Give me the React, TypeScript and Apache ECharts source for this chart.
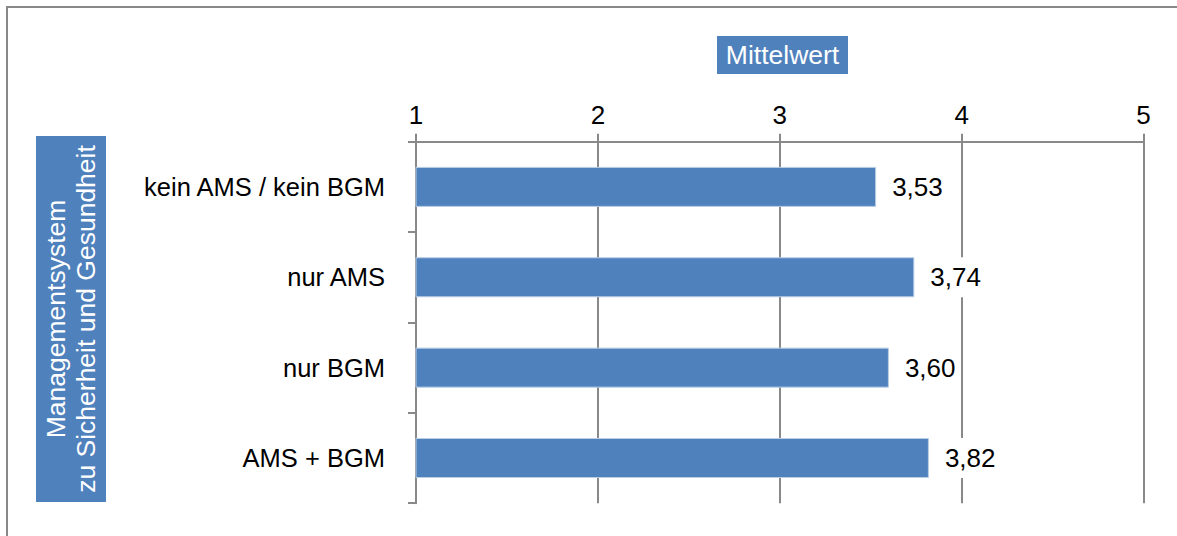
import React, { useEffect, useRef } from "react";
import * as echarts from "echarts";

const categories = ["kein AMS / kein BGM", "nur AMS", "nur BGM", "AMS + BGM"];
const values = [3.53, 3.74, 3.6, 3.82];
const axisMin = 1;
const axisMax = 5;
const axisTitle = "Mittelwert";
const yTitle = "Managementsystem\nzu Sicherheit und Gesundheit";

const FONT = "'Liberation Sans', Arial, sans-serif";
const GRAY = "#898989";
const BLUE = "#4F81BD";

export default function App() {
  const ref = useRef<HTMLDivElement>(null);
  useEffect(() => {
    document.body.style.margin = "0";
    const chart = echarts.init(ref.current!, null, { renderer: "svg" });
    chart.setOption({
      animation: false,
      backgroundColor: "#ffffff",
      grid: { left: 416, right: 33.5, top: 141.7, height: 361.5, containLabel: false },
      xAxis: {
        type: "value",
        position: "top",
        min: axisMin,
        max: axisMax,
        interval: 1,
        axisLine: { show: true, lineStyle: { color: GRAY, width: 2 } },
        axisTick: { show: true, length: 8, lineStyle: { color: GRAY, width: 2 } },
        splitLine: { show: true, lineStyle: { color: GRAY, width: 2 } },
        axisLabel: {
          fontSize: 26,
          color: "#000",
          fontFamily: FONT,
          margin: 14,
          formatter: (v: number) => String(v),
        },
      },
      yAxis: {
        type: "category",
        inverse: true,
        data: categories,
        axisLine: { show: true, lineStyle: { color: GRAY, width: 2 } },
        axisTick: { show: true, length: 8, lineStyle: { color: GRAY, width: 2 } },
        axisLabel: { fontSize: 25.5, color: "#000", fontFamily: FONT, margin: 31 },
        splitLine: { show: false },
      },
      series: [
        {
          type: "bar",
          data: values,
          barWidth: 40,
          clip: true,
          itemStyle: { color: BLUE, borderColor: "#B9CDE5", borderWidth: 1 },
          label: {
            show: true,
            position: "right",
            distance: 12,
            color: "#000",
            fontSize: 26,
            fontFamily: FONT,
            backgroundColor: "#ffffff",
            lineHeight: 26,
            padding: [7, 4],
            formatter: (p: any) => Number(p.value).toFixed(2).replace(".", ","),
          },
        },
      ],
      graphic: [
        {
          type: "rect",
          shape: { x: 7, y: 7, width: 1250, height: 600 },
          style: { fill: "none", stroke: GRAY, lineWidth: 2 },
          silent: true,
        },
        {
          type: "rect",
          shape: { x: 717, y: 36, width: 131, height: 38 },
          style: { fill: BLUE },
        },
        {
          type: "text",
          x: 782.5,
          y: 55,
          style: {
            text: axisTitle,
            fill: "#ffffff",
            fontSize: 26.5,
            fontFamily: FONT,
            textAlign: "center",
            textVerticalAlign: "middle",
            align: "center",
            verticalAlign: "middle",
          },
        },
        {
          type: "rect",
          shape: { x: 36, y: 136, width: 70, height: 366 },
          style: { fill: BLUE },
        },
        {
          type: "text",
          x: 71,
          y: 319,
          rotation: Math.PI / 2,
          style: {
            text: yTitle,
            fill: "#ffffff",
            fontSize: 26.5,
            fontFamily: FONT,
            lineHeight: 30,
            textAlign: "center",
            textVerticalAlign: "middle",
            align: "center",
            verticalAlign: "middle",
          },
        },
      ],
    });
    return () => chart.dispose();
  }, []);
  return <div ref={ref} style={{ width: 1177, height: 536 }} />;
}
